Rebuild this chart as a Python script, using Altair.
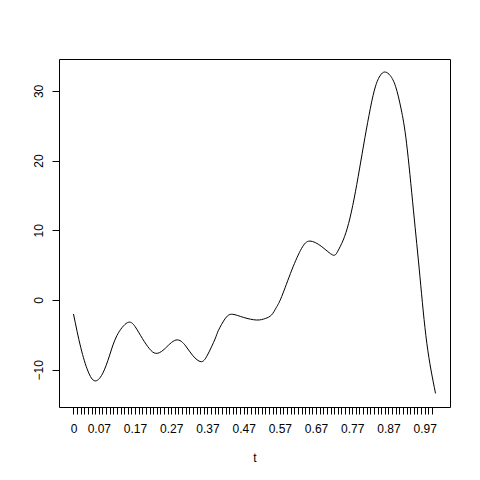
import altair as alt
import pandas as pd

t_vals = [0.00, 0.02, 0.04, 0.059, 0.08, 0.10, 0.12, 0.149, 0.17, 0.19, 0.21, 0.227,
          0.25, 0.283, 0.31, 0.33, 0.352, 0.37, 0.391, 0.40, 0.42, 0.44, 0.47, 0.506,
          0.53, 0.547, 0.56, 0.575, 0.603, 0.63, 0.653, 0.686, 0.716, 0.73, 0.745,
          0.76, 0.775, 0.79, 0.805, 0.82, 0.835, 0.85, 0.862, 0.875, 0.89, 0.905,
          0.92, 0.939, 0.957, 0.976, 1.00]
y_vals = [-2.0, -6.8, -10.2, -11.6, -10.6, -7.9, -5.1, -3.25, -3.8, -5.5, -7.0, -7.65,
          -7.1, -5.74, -6.6, -8.0, -8.85, -7.9, -5.6, -4.4, -2.6, -2.05, -2.5, -2.87,
          -2.65, -2.15, -1.1, 0.48, 4.3, 7.4, 8.46, 7.65, 6.46, 7.0, 8.6,
          11.0, 14.5, 18.8, 23.3, 27.5, 30.8, 32.4, 32.7, 32.2, 30.6, 27.4,
          22.5, 12.9, 3.35, -6.2, -13.4]

x_ticks = [round(i * 0.01, 2) for i in range(100)]
x_labels = [0, 0.07, 0.17, 0.27, 0.37, 0.47, 0.57, 0.67, 0.77, 0.87, 0.97]
y_ticks = [-10, 0, 10, 20, 30]

df = pd.DataFrame({"t": t_vals, "y": y_vals})

label_list = "[" + ",".join(str(v) for v in x_labels) + "]"

chart = alt.Chart(df).mark_line(
    color="black", strokeWidth=1, interpolate="natural"
).encode(
    x=alt.X("t:Q", scale=alt.Scale(domain=[-0.04, 1.04], nice=False, zero=False),
            axis=alt.Axis(values=x_ticks, title="t", grid=False, domain=False,
                          tickSize=7, tickColor="black", labelPadding=9,
                          labelOverlap=False, labelFlush=False,
                          labelExpr="indexof(" + label_list + ", datum.value) >= 0 ? format(datum.value, '~g') : ''",
                          titlePadding=18, titleFontWeight="normal")),
    y=alt.Y("y:Q", scale=alt.Scale(domain=[-15.35, 34.58], nice=False, zero=False),
            axis=alt.Axis(values=y_ticks, title=None, grid=False, domain=False,
                          tickSize=7, tickColor="black", labelPadding=7,
                          labelAngle=270, labelAlign="center", labelBaseline="bottom",
                          labelOverlap=False, labelFlush=False)),
).properties(
    width=391, height=348,
    background="white",
    autosize=alt.AutoSizeParams(type="none"),
    padding={"left": 51, "top": 51, "right": 22, "bottom": 65},
).configure_view(
    stroke="black", strokeWidth=1, strokeOpacity=1
).configure_axis(
    labelFont="Liberation Sans", titleFont="Liberation Sans",
    labelFontSize=12, titleFontSize=12, labelColor="black", titleColor="black"
)

chart.save("out.html", embed_options={"renderer": "svg", "actions": False})
